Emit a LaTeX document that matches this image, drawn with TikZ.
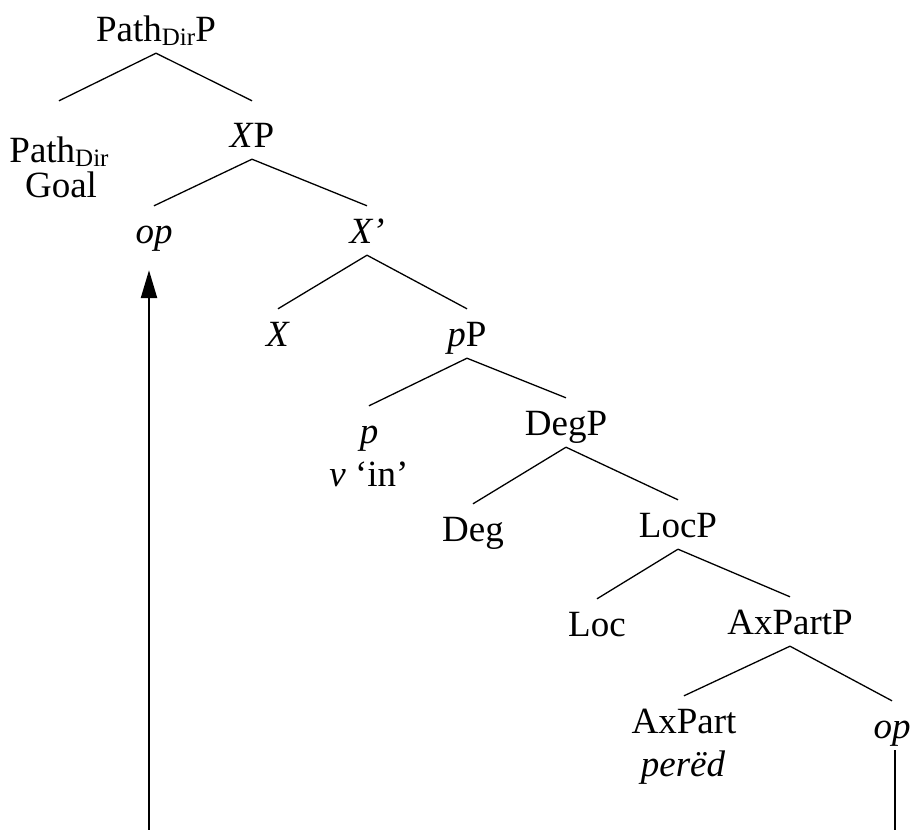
\documentclass[tikz,border=0pt]{standalone}
\usepackage{fontspec}
\setmainfont{Liberation Serif}
\usepackage{tikz}
\usetikzlibrary{arrows.meta}
\tikzstyle{cat}=[anchor=base, text height=33pt, text depth=8pt, inner sep=4pt]
\tikzstyle{gloss}=[anchor=base, inner sep=0pt]
\tikzstyle{branch}=[line width=1.3pt]
\tikzstyle{move}=[line width=2.5pt, -{Triangle[length=28pt,width=16pt]}]
\newcommand{\Dir}{\raisebox{-4pt}{\fontsize{25}{25}\selectfont Dir}}

\begin{document}
\begin{tikzpicture}[x=1pt, y=-1pt, font=\fontsize{37}{42}\selectfont]
	\useasboundingbox (0,0) rectangle (911,830);
	\node[cat] (pathp) at (156,41) {Path\Dir P};
	\node[cat, text height=57pt] (pathdir) at (59,162) {Path\Dir};
	\node[gloss] (goal) at (61,197) {Goal};
	\node[cat, text height=42pt] (xp) at (252,147) {\textit{X}P};
	\node[cat] (opup) at (154,243) {\textit{op}};
	\node[cat] (xbar) at (367,243) {\textit{X'}};
	\node[cat] (xhead) at (278,346) {\textit{X}};
	\node[cat] (pp) at (467,346) {\textit{p}P};
	\node[cat] (phead) at (369,443) {\textit{p}};
	\node[gloss] (vin) at (369,486) {\textit{v} `in'};
	\node[cat] (degp) at (566,435) {DegP};
	\node[cat] (deg) at (473,541) {Deg};
	\node[cat] (locp) at (678,537) {LocP};
	\node[cat] (loc) at (597,636) {Loc};
	\node[cat] (axpartp) at (790,634) {AxPartP};
	\node[cat] (axpart) at (684,733) {AxPart};
	\node[gloss] (pered) at (683,776) {\textit{perëd}};
	\node[cat] (opdown) at (892,738) {\textit{op}};
	\coordinate (footL) at (149,830);
	\coordinate (footR) at (895,830);

	\draw[branch] (pathp.south) -- (pathdir.north);
	\draw[branch] (pathp.south) -- (xp.north);
	\draw[branch] (xp.south) -- (opup.north);
	\draw[branch] (xp.south) -- (xbar.north);
	\draw[branch] (xbar.south) -- (xhead.north);
	\draw[branch] (xbar.south) -- (pp.north);
	\draw[branch] (pp.south) -- (phead.north);
	\draw[branch] (pp.south) -- (degp.north);
	\draw[branch] (degp.south) -- (deg.north);
	\draw[branch] (degp.south) -- (locp.north);
	\draw[branch] (locp.south) -- (loc.north);
	\draw[branch] (locp.south) -- (axpartp.north);
	\draw[branch] (axpartp.south) -- (axpart.north);
	\draw[branch] (axpartp.south) -- (opdown.north);

	\draw[branch] (footR |- opdown.south) -- (footR);
	\draw[move, shorten >=15pt] (footL) -- (footL |- opup.south);
\end{tikzpicture}
\end{document}
